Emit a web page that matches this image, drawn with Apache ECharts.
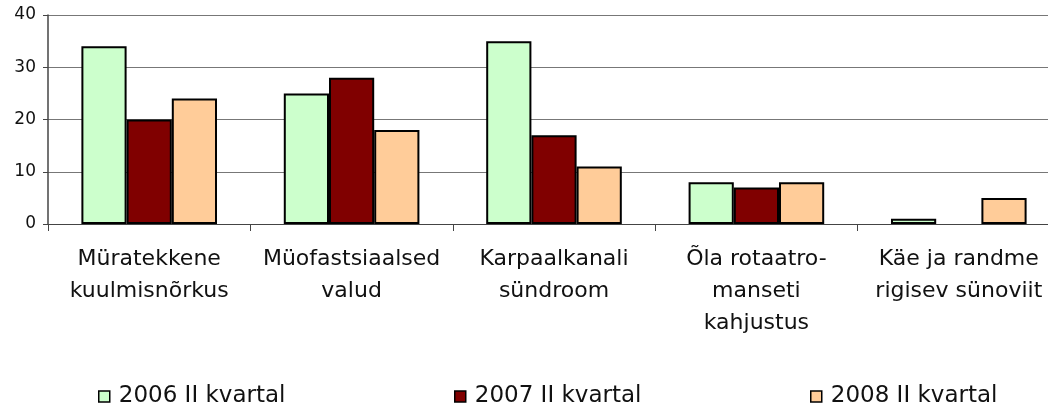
<!DOCTYPE html>
<html><head><meta charset="utf-8">
<script src="https://cdn.jsdelivr.net/npm/echarts@6/dist/echarts.min.js"></script>
<style>html,body{margin:0;padding:0;background:#fff;overflow:hidden;width:1048px;height:404px}#c{width:1070px;height:404px}</style>
</head><body><div id="c"></div>
<script>
const categories = ["Müratekkene\nkuulmisnõrkus", "Müofastsiaalsed\nvalud", "Karpaalkanali\nsündroom", "Õla rotaatro-\nmanseti\nkahjustus", "Käe ja randme\nrigisev sünoviit"];
const seriesNames = ["2006 II kvartal", "2007 II kvartal", "2008 II kvartal"];
const values2006 = [34, 25, 35, 8, 1];
const values2007 = [20, 28, 17, 7, 0];
const values2008 = [24, 18, 11, 8, 5];
const colors = ["#CCFFCC", "#800000", "#FFCC99"];
const yTicks = {min: 0, max: 40, interval: 10};

const font = "DejaVu Sans";
const allValues = [values2006, values2007, values2008];
const chart = echarts.init(document.getElementById('c'));
const legendLefts = [93, 449, 805];
chart.setOption({
  animation: false,
  textStyle: {fontFamily: font},
  grid: {left: 48, top: 15, right: 10, bottom: 180, containLabel: false},
  xAxis: {
    type: 'category', data: categories,
    axisLine: {lineStyle: {color: '#444', width: 1}},
    axisTick: {show: true, length: 7, lineStyle: {color: '#444'}},
    axisLabel: {color: '#111', fontSize: 22, lineHeight: 32, margin: 19, fontFamily: font, interval: 0}
  },
  yAxis: {
    type: 'value', min: yTicks.min, max: yTicks.max, interval: yTicks.interval,
    axisLine: {show: true, lineStyle: {color: '#444', width: 1.5}},
    axisTick: {show: true, length: 5, lineStyle: {color: '#444'}},
    splitLine: {lineStyle: {color: '#777', width: 1}},
    axisLabel: {color: '#111', fontSize: 17, margin: 12, fontFamily: font}
  },
  legend: seriesNames.map((n, i) => ({
    data: [n], left: legendLefts[i], top: 380,
    itemWidth: 11, itemHeight: 11, itemGap: 0,
    icon: 'rect',
    itemStyle: {borderColor: '#000', borderWidth: 1.5},
    textStyle: {fontSize: 23, color: '#111', fontFamily: font, padding: [0, 0, 0, 4]}
  })),
  series: seriesNames.map((n, i) => ({
    name: n, type: 'bar',
    data: allValues[i].map(v => v === 0 ? {value: v, itemStyle: {borderWidth: 0}} : v),
    barGap: '0%', barCategoryGap: '33%',
    itemStyle: {color: colors[i], borderColor: '#000', borderWidth: 2}
  }))
});
</script></body></html>
